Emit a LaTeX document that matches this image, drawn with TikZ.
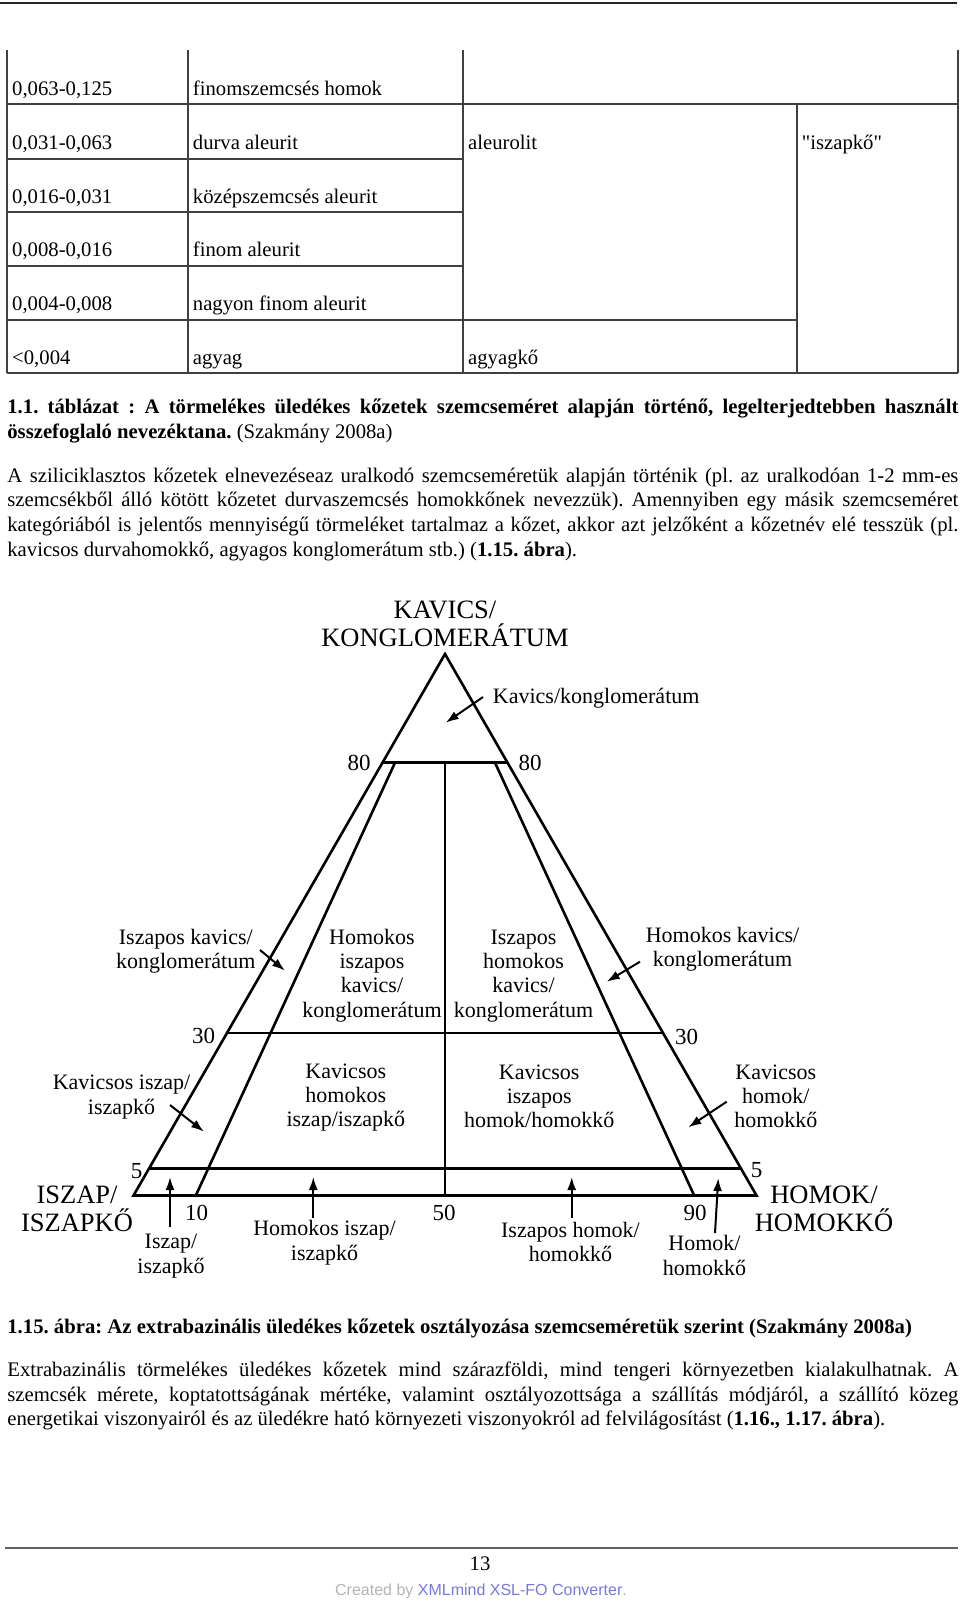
\documentclass[tikz,border=0pt]{standalone}
\usepackage{fontspec}
\setmainfont{Liberation Serif}
\newfontfamily\qfont[Ligatures=TeXOff]{Liberation Serif}
\newfontfamily\sansf{Liberation Sans}
\usetikzlibrary{arrows.meta,calc}
\definecolor{rulegray}{HTML}{404040}
\definecolor{footgray}{HTML}{606060}
\definecolor{credgray}{HTML}{B4B4B4}
\definecolor{credblue}{HTML}{7878DC}
\frenchspacing
\begin{document}
\frenchspacing
\begin{tikzpicture}[x=1pt,y=-1pt,
  tl/.style={draw=rulegray,line width=1.8pt},
  body/.style={font=\fontsize{20.7}{24}\selectfont\frenchspacing,inner sep=0pt,anchor=base west},
  tri/.style={line width=2.6pt,line join=miter},
  lab/.style={font=\fontsize{22}{24.1}\selectfont,align=center,inner sep=0pt,anchor=base},
  big/.style={font=\fontsize{26.5}{28.7}\selectfont,align=center,inner sep=0pt,anchor=base},
  num/.style={font=\fontsize{23}{24}\selectfont,inner sep=0pt,anchor=base},
  arr/.style={line width=2pt,-{Latex[length=13pt,width=9pt]}}]
\useasboundingbox (0,0) rectangle (960,1601);

% top rule
\draw[draw=black!85,line width=1.5pt] (0,3) -- (957,3);

% ---------------- table ----------------
\draw[tl] (7,50) -- (7,373.3);
\draw[tl] (188,50) -- (188,373.3);
\draw[tl] (463,50) -- (463,373.3);
\draw[tl] (797,104.3) -- (797,373.3);
\draw[tl] (958,50) -- (958,373.3);
\draw[tl] (7,104.3) -- (958,104.3);
\draw[tl] (7,158.7) -- (463,158.7);
\draw[tl] (7,212.3) -- (463,212.3);
\draw[tl] (7,266) -- (463,266);
\draw[tl] (7,320) -- (797,320);
\draw[tl] (7,373.3) -- (958,373.3);

\node[body] (r1a) at (12,95) {0,063-0,125};
\node[body] (r1b) at (192.7,95) {finomszemcsés homok};
\node[body] (r2a) at (12,149) {0,031-0,063};
\node[body] (r2b) at (192.7,149) {durva aleurit};
\node[body] (r2c) at (468,149) {aleurolit};
\node[body] (r2d) at (801.7,149) {\qfont "iszapkő"};
\node[body] (r3a) at (12,203.3) {0,016-0,031};
\node[body] (r3b) at (192.7,203.3) {középszemcsés aleurit};
\node[body] (r4a) at (12,256.7) {0,008-0,016};
\node[body] (r4b) at (192.7,256.7) {finom aleurit};
\node[body] (r5a) at (12,310.7) {0,004-0,008};
\node[body] (r5b) at (192.7,310.7) {nagyon finom aleurit};
\node[body] (r6a) at (12,364) {<0,004};
\node[body] (r6b) at (192.7,364) {agyag};
\node[body] (r6c) at (468,364) {agyagkő};

% ---------------- caption + paragraph ----------------
\node[body] (c1a) at (7.2,413.6) {\makebox[951pt][s]{\bfseries 1.1. táblázat : A törmelékes üledékes kőzetek szemcseméret alapján történő, legelterjedtebben használt}};
\node[body] (c1b) at (7.2,438) {\textbf{összefoglaló nevezéktana.} (Szakmány 2008a)};

\node[body] (p1a) at (7.2,482) {\makebox[951pt][s]{A sziliciklasztos kőzetek elnevezéseaz uralkodó szemcseméretük alapján történik (pl. az uralkodóan 1-2 mm-es}};
\node[body] (p1b) at (7.2,506.6) {\makebox[951pt][s]{szemcsékből álló kötött kőzetet durvaszemcsés homokkőnek nevezzük). Amennyiben egy másik szemcseméret}};
\node[body] (p1c) at (7.2,531) {\makebox[951pt][s]{kategóriából is jelentős mennyiségű törmeléket tartalmaz a kőzet, akkor azt jelzőként a kőzetnév elé tesszük (pl.}};
\node[body] (p1d) at (7.2,556.6) {kavicsos durvahomokkő, agyagos konglomerátum stb.) (\textbf{1.15. ábra}).};

% ---------------- triangle ----------------
\coordinate (A) at (445,654);
\coordinate (L) at (133.5,1195.5);
\coordinate (R) at (756.5,1195.5);
\coordinate (l80) at ($(L)!0.8!(A)$);
\coordinate (r80) at ($(R)!0.8!(A)$);
\coordinate (l30) at ($(L)!0.3!(A)$);
\coordinate (r30) at ($(R)!0.3!(A)$);
\coordinate (l05) at ($(L)!0.05!(A)$);
\coordinate (r05) at ($(R)!0.05!(A)$);
\coordinate (B10) at ($(L)!0.1!(R)$);
\coordinate (B50) at ($(L)!0.5!(R)$);
\coordinate (B90) at ($(L)!0.9!(R)$);
\coordinate (T10) at ($(A)!0.2!(B10)$);
\coordinate (T50) at ($(A)!0.2!(B50)$);
\coordinate (T90) at ($(A)!0.2!(B90)$);

\draw[tri] (A) -- (L) -- (R) -- cycle;
\draw[tri] (l80) -- (r80);
\draw[tri] (l30) -- (r30);
\draw[tri] (l05) -- (r05);
\draw[tri] (T10) -- (B10);
\draw[tri] (T50) -- (B50);
\draw[tri] (T90) -- (B90);

% corner names (anchor = baseline of last line)
\node[big] (kav) at (445,646.7) {KAVICS/\\KONGLOMERÁTUM};
\node[big] (isz) at (77,1231.7) {ISZAP/\\ISZAPKŐ};
\node[big] (hom) at (824,1231.7) {HOMOK/\\HOMOKKŐ};

% numbers
\node[num] (n80l) at (359.2,770) {80};
\node[num] (n80r) at (530,770) {80};
\node[num] (n30l) at (203.5,1043) {30};
\node[num] (n30r) at (686.7,1044) {30};
\node[num] (n5l) at (136.7,1178) {5};
\node[num] (n5r) at (756.7,1177) {5};
\node[num] (n10) at (196.5,1220.7) {10};
\node[num] (n50) at (444,1220.7) {50};
\node[num] (n90) at (695,1220) {90};

% field labels (anchor = baseline of last line)
\node[lab] (lkk) at (596.2,703) {Kavics/konglomerátum};
\node[lab] (ikk) at (185.8,968.3) {Iszapos kavics/\\konglomerátum};
\node[lab] (hikk) at (372,1017) {Homokos\\iszapos\\kavics/\\konglomerátum};
\node[lab] (ihkk) at (523.5,1017) {Iszapos\\homokos\\kavics/\\konglomerátum};
\node[lab] (hkk) at (722.5,966.7) {Homokos kavics/\\konglomerátum};
\node[lab] (kis) at (121.5,1114) {Kavicsos iszap/\\iszapkő};
\node[lab] (khi) at (345.8,1126.5) {Kavicsos\\homokos\\iszap/iszapkő};
\node[lab] (kih) at (539.2,1127.5) {Kavicsos\\iszapos\\homok/homokkő};
\node[lab] (khh) at (775.8,1127.5) {Kavicsos\\homok/\\homokkő};
\node[lab] (ii) at (171,1273) {Iszap/\\iszapkő};
\node[lab] (hi) at (324.5,1260) {Homokos iszap/\\iszapkő};
\node[lab] (ih) at (570.5,1261.5) {Iszapos homok/\\homokkő};
\node[lab] (hh) at (704.5,1275) {Homok/\\homokkő};

% arrows
\coordinate (a1s) at (483,697);    \coordinate (a1e) at (445.7,722.7);
\coordinate (a2s) at (260,950);    \coordinate (a2e) at (285,970.7);
\coordinate (a3s) at (640,961.7);  \coordinate (a3e) at (606.7,981.7);
\coordinate (a4s) at (170,1105);   \coordinate (a4e) at (204,1131.7);
\coordinate (a5s) at (726.7,1101.7); \coordinate (a5e) at (688.3,1127.3);
\coordinate (a6s) at (170,1226.7); \coordinate (a6e) at (170,1177);
\coordinate (a7s) at (313.3,1218); \coordinate (a7e) at (313.3,1177);
\coordinate (a8s) at (571.7,1218); \coordinate (a8e) at (571.7,1177);
\coordinate (a9s) at (715,1233);   \coordinate (a9e) at (718.3,1178);
\draw[arr] (a1s) -- (a1e);
\draw[arr] (a2s) -- (a2e);
\draw[arr] (a3s) -- (a3e);
\draw[arr] (a4s) -- (a4e);
\draw[arr] (a5s) -- (a5e);
\draw[arr] (a6s) -- (a6e);
\draw[arr] (a7s) -- (a7e);
\draw[arr] (a8s) -- (a8e);
\draw[arr] (a9s) -- (a9e);

% ---------------- figure caption + paragraph ----------------
\node[body] (c2) at (7.2,1333) {\bfseries 1.15. ábra: Az extrabazinális üledékes kőzetek osztályozása szemcseméretük szerint (Szakmány 2008a)};
\node[body] (p2a) at (7.2,1376.7) {\makebox[951pt][s]{Extrabazinális törmelékes üledékes kőzetek mind szárazföldi, mind tengeri környezetben kialakulhatnak. A}};
\node[body] (p2b) at (7.2,1401.5) {\makebox[951pt][s]{szemcsék mérete, koptatottságának mértéke, valamint osztályozottsága a szállítás módjáról, a szállító közeg}};
\node[body] (p2c) at (7.2,1425.6) {energetikai viszonyairól és az üledékre ható környezeti viszonyokról ad felvilágosítást (\textbf{1.16., 1.17. ábra}).};

% ---------------- footer ----------------
\draw[draw=footgray,line width=2pt] (5,1548) -- (958,1548);
\node[body,anchor=base] (pg) at (480,1570) {13};
\node[anchor=base,inner sep=0pt,font=\sansf\fontsize{16}{18}\selectfont] (cred) at (481,1595)
  {\textcolor{credgray}{Created by }\textcolor{credblue}{XMLmind XSL-FO Converter}\textcolor{credgray}{.}};
\end{tikzpicture}
\end{document}
